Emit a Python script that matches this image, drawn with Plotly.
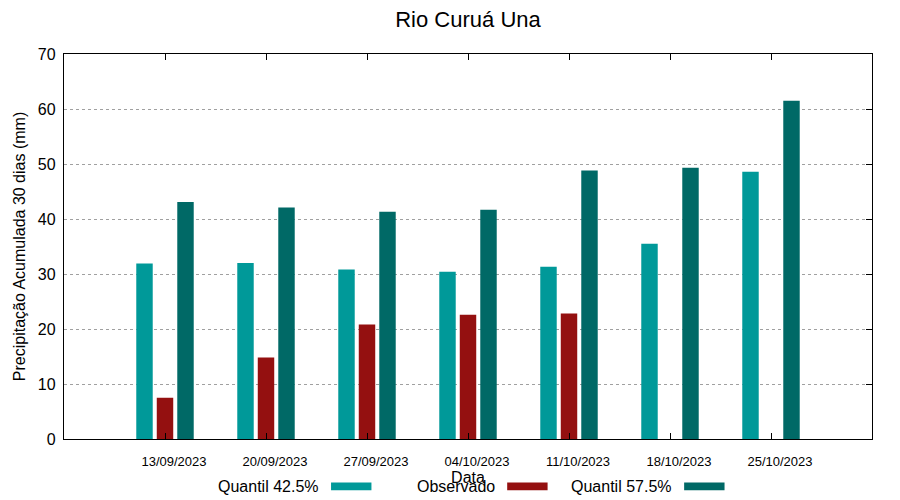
import plotly.graph_objects as go

datas = ["13/09/2023", "20/09/2023", "27/09/2023", "04/10/2023", "11/10/2023", "18/10/2023", "25/10/2023"]
quantil_425 = [31.9, 32.0, 30.8, 30.4, 31.3, 35.5, 48.6]
observado = [7.5, 14.8, 20.8, 22.6, 22.8, None, None]
quantil_575 = [43.1, 42.1, 41.3, 41.7, 48.8, 49.3, 61.5]
y_ticks = [0, 10, 20, 30, 40, 50, 60, 70]

c_q1 = "#009999"
c_obs = "#941010"
c_q2 = "#006966"

FONT = "Liberation Sans, Arial, sans-serif"

fig = go.Figure()
fig.add_trace(go.Bar(x=datas, y=quantil_425, name="Quantil 42.5%", marker=dict(color=c_q1, line=dict(width=0))))
fig.add_trace(go.Bar(x=datas, y=observado, name="Observado", marker=dict(color=c_obs, line=dict(width=0))))
fig.add_trace(go.Bar(x=datas, y=quantil_575, name="Quantil 57.5%", marker=dict(color=c_q2, line=dict(width=0))))

# page body has an 8px margin, so the figure is 892x492 placed at (8, 8)
fig.update_layout(
    width=892, height=492,
    margin=dict(l=56, r=28, t=46, b=61),
    paper_bgcolor="white", plot_bgcolor="white",
    barmode="group", bargap=0.391, bargroupgap=0.197,
    showlegend=False,
    font=dict(family=FONT, color="black"),
    title=dict(text="Rio Curuá Una", x=0.5157, xanchor="center", y=0.978, yanchor="middle",
               font=dict(size=22, family=FONT, color="black")),
    xaxis=dict(
        type="category", range=[-1, 7], automargin=False,
        showline=True, linecolor="black", linewidth=1.3, mirror="ticks",
        ticks="inside", ticklen=6, tickcolor="black", tickwidth=1.3,
        tickfont=dict(size=13, family=FONT), ticklabelshift=9, ticklabelstandoff=10,
        showgrid=False,
        title=dict(text="Data", font=dict(size=16, family=FONT), standoff=0),
    ),
    yaxis=dict(
        range=[0, 70], tickvals=y_ticks, automargin=False,
        showline=True, linecolor="black", linewidth=1.3, mirror=True,
        ticks="", tickfont=dict(size=16, family=FONT), ticklabelstandoff=4,
        showgrid=True, gridcolor="#a0a0a0", gridwidth=1, griddash="dot",
        zeroline=False,
        title=dict(text="Precipitação Acumulada 30 dias (mm)", font=dict(size=16, family=FONT), standoff=8),
    ),
    yaxis2=dict(
        overlaying="y", side="right", range=[0, 70], tickvals=y_ticks, automargin=False,
        ticks="inside", ticklen=6, tickcolor="black", tickwidth=1.3,
        showticklabels=False, showgrid=False, zeroline=False, showline=False,
    ),
)

# invisible trace to anchor yaxis2
fig.add_trace(go.Scatter(x=[datas[0]], y=[0], yaxis="y2", mode="markers",
                         marker=dict(opacity=0), showlegend=False, hoverinfo="skip"))

# custom legend (text left of colored sample)
legend_items = [("Quantil 42.5%", c_q1, 0.318), ("Observado", c_obs, 0.536), ("Quantil 57.5%", c_q2, 0.755)]
ly = -0.124
for label, col, xr in legend_items:
    fig.add_annotation(text=label, xref="paper", yref="paper", x=xr, y=ly,
                       xanchor="right", yanchor="middle", showarrow=False,
                       font=dict(size=16, family=FONT, color="black"))
    fig.add_shape(type="rect", xref="paper", yref="paper",
                  x0=xr + 0.0125, x1=xr + 0.0625, y0=ly - 0.009, y1=ly + 0.011,
                  fillcolor=col, line=dict(width=0))

fig.write_html("out.html")
